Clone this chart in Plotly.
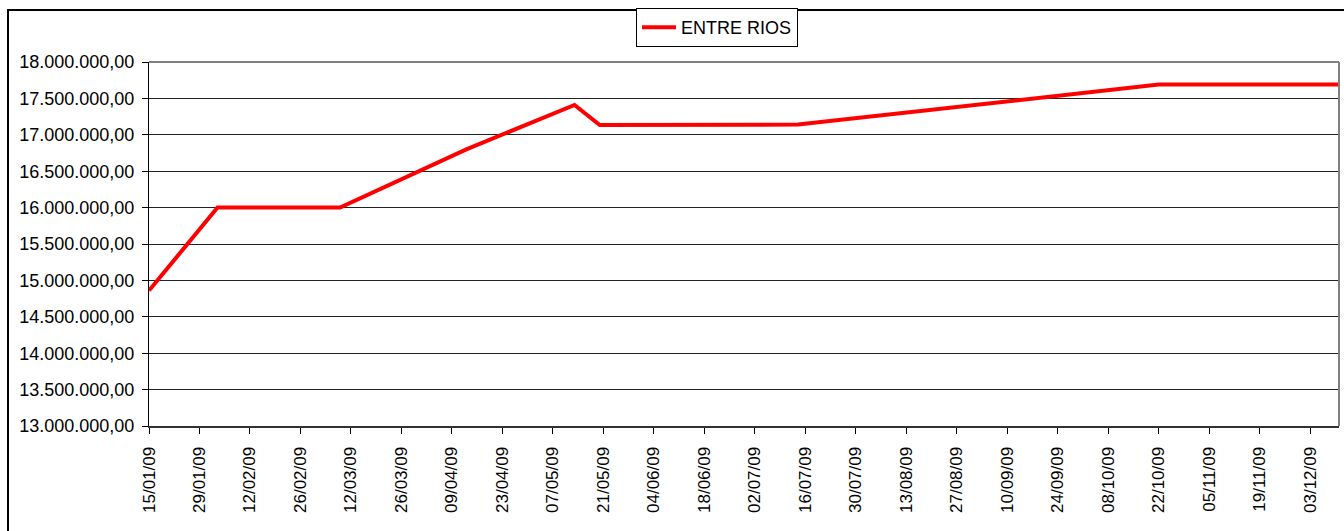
import plotly.graph_objects as go

dates = ["2009-01-15", "2009-02-03", "2009-03-09", "2009-04-13", "2009-05-13",
         "2009-05-20", "2009-07-14", "2009-10-22", "2009-12-11"]
values = [14860000, 16000000, 16000000, 16800000, 17410000,
          17135000, 17140000, 17690000, 17690000]
series_name = "ENTRE RIOS"

W, H = 1344, 531
L, R, T, B = 149, 5, 62, 105
pw, ph = W - L - R, H - T - B

fig = go.Figure()
fig.add_trace(go.Scatter(x=dates, y=values, mode="lines", name=series_name,
                         line=dict(color="#ff0000", width=4)))

def px_x(p):
    return (p - L) / pw

def px_y(p):
    return (H - B - p) / ph

FONT = "Liberation Sans, Arial, sans-serif"

fig.update_layout(
    width=W, height=H,
    margin=dict(l=L, r=R, t=T, b=B, autoexpand=False),
    paper_bgcolor="white", plot_bgcolor="white",
    separators=",.",
    font=dict(family=FONT, color="black"),
    showlegend=True,
    legend=dict(x=px_x(636), y=px_y(8), xanchor="left", yanchor="top",
                bordercolor="black", borderwidth=1, bgcolor="white",
                font=dict(size=18, family=FONT),
                itemwidth=34, tracegroupgap=0),
    xaxis=dict(type="date", range=["2009-01-15", "2009-12-11"],
               tick0="2009-01-15", dtick=14 * 86400000, tickformat="%d/%m/%y",
               tickangle=-90, ticks="outside", ticklen=6, tickcolor="black",
               ticklabelstandoff=6,
               showgrid=False, showline=True, linecolor="#333", linewidth=2,
               tickfont=dict(size=17), zeroline=False, automargin=False),
    yaxis=dict(range=[13000000, 18000000], dtick=500000, tickformat=",.2f",
               ticks="outside", ticklen=6, tickcolor="black",
               ticklabelstandoff=4,
               showgrid=True, gridcolor="#222", gridwidth=1,
               showline=True, linecolor="black", linewidth=1,
               tickfont=dict(size=18), zeroline=False, automargin=False),
    shapes=[
        dict(type="line", xref="paper", yref="paper", x0=0, x1=1, y0=1, y1=1,
             line=dict(color="#808080", width=2)),
        dict(type="line", xref="paper", yref="paper", x0=1, x1=1, y0=0, y1=1,
             line=dict(color="#808080", width=2)),
        dict(type="rect", xref="paper", yref="paper",
             x0=px_x(8), x1=px_x(1360), y0=px_y(560), y1=px_y(10),
             line=dict(color="black", width=2), layer="below"),
    ],
)

fig.write_html("out.html", config={"displayModeBar": False},
               post_script="document.body.style.margin='0';document.body.style.overflow='hidden';")
